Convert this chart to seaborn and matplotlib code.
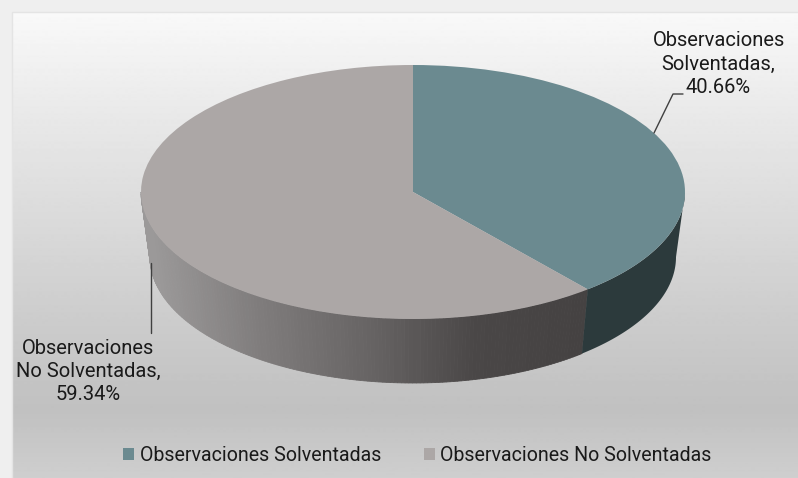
import numpy as np
import matplotlib
matplotlib.use('Agg')
import matplotlib.pyplot as plt
import seaborn as sns

# data
names = ['Observaciones Solventadas', 'Observaciones No Solventadas']
label_names = ['Observaciones\nSolventadas', 'Observaciones\nNo Solventadas']
values = [40.66, 59.34]

top_colors = ['#6b8a90', '#aca7a6']
side_dark = '#2c3a3c'

sns.set_theme(style='white')
plt.rcParams['font.family'] = ['Roboto', 'DejaVu Sans']

W, H = 798, 478
CX, CY, RX, RY = 413, 192, 272, 127


def X(px):
    return (px - CX) / RX


def Y(py):
    return (CY - py) / RY


# the tilted pie looks foreshortened, so the drawn angle differs a bit from the real one
def drawn_angle(deg, k=1.26):
    rad = np.radians(deg)
    return np.degrees(np.arctan2(k * np.sin(rad), np.cos(rad))) % 360


def rim(t, cy=0.0, rx=1.0, ry=1.0):
    # t is clockwise from the top
    return rx * np.sin(np.radians(t)), cy + ry * np.cos(np.radians(t))


fig = plt.figure(figsize=(W / 100, H / 100), dpi=100, facecolor='#efefef')
ax = fig.add_axes([0, 0, 1, 1])

split = drawn_angle(values[0] * 3.6)
wedges, _ = ax.pie([split, 360 - split], colors=top_colors, startangle=90, counterclock=False,
                   wedgeprops={'linewidth': 0, 'zorder': 4})
ax.set_aspect('auto')
ax.set_frame_on(False)

# panel background
py = np.arange(12, H + 1)
shade = np.interp(py, [12, 120, 230, 330, 410, 478], [0.976, 0.91, 0.85, 0.795, 0.755, 0.81])
ax.imshow(shade[:, None], extent=(X(12), X(W), Y(H), Y(12)), cmap='gray', vmin=0, vmax=1,
          aspect='auto', zorder=0, interpolation='bilinear')
ax.plot([X(12), X(12), X(W)], [Y(H), Y(12), Y(12)], color='#e4e4e4', lw=1, zorder=1)

# side wall
low_cy, low_rx, low_ry = Y(257), 263 / RX, 126 / RY
wall_cmap = sns.blend_palette(['#9b9999', '#7f7c7c', '#676464', '#4a4747', '#454242'], as_cmap=True)

steps = np.linspace(split, 270, 160)
for a, b in zip(steps[:-1], steps[1:]):
    tx0, ty0 = rim(a)
    tx1, ty1 = rim(b)
    bx0, by0 = rim(a, low_cy, low_rx, low_ry)
    bx1, by1 = rim(b, low_cy, low_rx, low_ry)
    frac = (rim((a + b) / 2, 0, RX, RY)[0] + CX - 150) / (585 - 150)
    col = wall_cmap(np.clip(frac, 0, 1))
    ax.fill([tx0, tx1, bx1, bx0], [ty0, ty1, by1, by0], color=col, lw=0.6, zorder=2)

t = np.linspace(90, split, 60)
tx, ty = rim(t)
bx, by = rim(t, low_cy, low_rx, low_ry)
ax.fill(np.r_[tx, bx[::-1]], np.r_[ty, by[::-1]], color=side_dark, lw=0, zorder=2)

# data labels and leaders
lead = '#404040'
ax.plot([X(654), X(673), X(683)], [Y(133), Y(94), Y(94)], color=lead, lw=1, zorder=5)
ax.plot([X(151), X(151)], [Y(263), Y(333)], color=lead, lw=1, zorder=5)

text_col = '#1a1a1a'
ax.text(X(718.5), Y(64), f'{label_names[0]},\n{values[0]:.2f}%', ha='center', va='center',
        fontsize=14.5, color=text_col, linespacing=1.28, zorder=6)
ax.text(X(88), Y(371.5), f'{label_names[1]},\n{values[1]:.2f}%', ha='center', va='center',
        fontsize=14.5, color=text_col, linespacing=1.28, zorder=6)

ax.set_xlim(X(0), X(W))
ax.set_ylim(Y(H), Y(0))

fig.legend(wedges, names, ncols=2, loc='center', bbox_to_anchor=(417.5 / W, 1 - 455.5 / H), frameon=False,
           fontsize=14.1, handlelength=0.57, handleheight=0.57, handletextpad=0.27, columnspacing=2.2,
           labelcolor=text_col)

fig.savefig('out.png', dpi=100, facecolor=fig.get_facecolor())
